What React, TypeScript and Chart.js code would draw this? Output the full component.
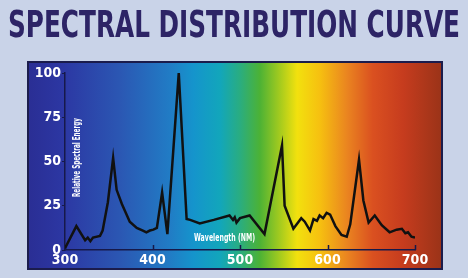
import React, { useEffect, useRef } from "react";
import { Chart, registerables } from "chart.js";

Chart.register(...registerables);

// ---- data ----
const wavelengths = [
  300, 313, 323, 326, 329, 332, 340, 343, 349, 355, 359, 365, 374, 382, 389, 393, 397, 401, 405, 411,
  417, 430, 439, 443, 454, 470, 488, 492, 494, 496, 500, 511, 528, 548, 551, 561, 570, 574, 580, 584,
  588, 591, 595, 599, 603, 609, 616, 622, 626, 636, 641, 647, 654, 662, 671, 679, 685, 689, 692, 696, 700,
];
const energy = [
  1, 13.5, 5.5, 7, 5, 7, 8, 11, 27, 52, 34, 26, 16, 12.5, 11, 10, 11, 11.5, 12.5, 32.5,
  9, 100, 17.5, 17, 15, 17, 19.5, 17, 18.5, 15.5, 18, 19.5, 9, 59, 25, 12, 18, 16, 11, 17.5,
  16.5, 19.5, 18, 21, 20, 13.5, 8.5, 7.5, 14.5, 51, 28, 15.5, 19.5, 14, 10, 11.5, 12, 9.5, 10, 7.5, 7,
];
const xTickValues = [300, 400, 500, 600, 700];
const yTickValues = [0, 25, 50, 75, 100];
const titleText = "SPECTRAL DISTRIBUTION CURVE";
const yTitleText = "Relative Spectral Energy";
const xTitleText = "Wavelength (NM)";

function pickFont(cands: string[]): string | null {
  const c = document.createElement("canvas").getContext("2d");
  if (!c) return null;
  const s = "SPECTRAL Wavelength 0123456789";
  for (const f of cands) {
    c.font = `bold 20px "${f}", monospace`;
    const a = c.measureText(s).width;
    c.font = `bold 20px "${f}", serif`;
    const b = c.measureText(s).width;
    if (Math.abs(a - b) < 0.01) return f;
  }
  return null;
}

function drawFit(
  ctx: CanvasRenderingContext2D,
  text: string,
  x: number,
  y: number,
  font: string,
  width: number,
  color: string
) {
  ctx.save();
  ctx.font = font;
  const w = ctx.measureText(text).width;
  ctx.translate(x, y);
  ctx.scale(width / w, 1);
  ctx.fillStyle = color;
  ctx.textAlign = "left";
  ctx.textBaseline = "middle";
  ctx.fillText(text, 0, 0);
  ctx.restore();
}

export default function App() {
  const ref = useRef<HTMLCanvasElement | null>(null);

  useEffect(() => {
    const canvas = ref.current;
    if (!canvas) return;
    const narrow = pickFont([
      "Liberation Sans Narrow",
      "DejaVu Sans Condensed",
      "Roboto Condensed",
      "Open Sans Condensed",
      "Arial Narrow",
    ]);
    const fam = narrow ? `"${narrow}"` : `"Liberation Sans", sans-serif`;
    const tickFont = { family: narrow ? `"${narrow}"` : "Roboto", size: narrow ? 14 : 12, weight: "bold" as const };
    const dark = "#16194a";

    const decor = {
      id: "decor",
      beforeDraw(chart: any) {
        const ctx: CanvasRenderingContext2D = chart.ctx;
        ctx.save();
        ctx.fillStyle = "#c9d3e8";
        ctx.fillRect(0, 0, chart.width, chart.height);
        // title
        ctx.font = `bold 37px ${fam}`;
        ctx.save();
        const tw = ctx.measureText(titleText).width;
        ctx.translate(8, 37);
        ctx.scale(452 / tw, 1);
        ctx.fillStyle = "#2d2466";
        ctx.textBaseline = "alphabetic";
        ctx.fillText(titleText, 0, 0);
        ctx.restore();
        // spectrum panel
        const L = 28, T = 62, W = 414, H = 207;
        const g = ctx.createLinearGradient(L, 0, L + W, 0);
        const stops: [number, string][] = [
          [0, "#2a2e94"], [0.085, "#2c37a3"], [0.222, "#2b57b3"], [0.343, "#217cc5"],
          [0.399, "#1594cc"], [0.464, "#12a6bb"], [0.512, "#2aad80"], [0.56, "#4cb235"],
          [0.609, "#a5cb1e"], [0.65, "#f2e10e"], [0.705, "#f6c010"], [0.771, "#ea8420"],
          [0.833, "#da5020"], [0.906, "#c63c1e"], [1, "#9a3318"],
        ];
        stops.forEach(([o, c]) => g.addColorStop(o, c));
        ctx.fillStyle = g;
        ctx.fillRect(L, T, W, H);
        ctx.strokeStyle = "#1b1c4c";
        ctx.lineWidth = 2;
        ctx.strokeRect(L, T, W, H);
        ctx.restore();
      },
      beforeDatasetsDraw(chart: any) {
        const ctx: CanvasRenderingContext2D = chart.ctx;
        const xs = chart.scales.x;
        const ys = chart.scales.y;
        ctx.save();
        // inward x tick marks
        ctx.strokeStyle = dark;
        ctx.lineWidth = 1.5;
        xTickValues.forEach((v) => {
          const px = Math.round(xs.getPixelForValue(v)) + 0.5;
          ctx.beginPath();
          ctx.moveTo(px, ys.bottom);
          ctx.lineTo(px, ys.bottom - 5);
          ctx.stroke();
        });
        // y title (rotated, inside plot)
        ctx.save();
        ctx.translate(77, 197);
        ctx.rotate(-Math.PI / 2);
        drawFit(ctx, yTitleText, 0, 0, `bold 11px ${fam}`, 79, "#ffffff");
        ctx.restore();
        // x title
        drawFit(ctx, xTitleText, 194, 238, `bold 11px ${fam}`, 61, "#ffffff");
        ctx.restore();
      },
    };

    const chart = new Chart(canvas, {
      type: "line",
      data: {
        datasets: [
          {
            data: wavelengths.map((w, i) => ({ x: w, y: energy[i] })),
            borderColor: "#111111",
            borderWidth: 2.5,
            pointRadius: 0,
            tension: 0,
            fill: false,
          },
        ],
      },
      options: {
        animation: false,
        responsive: false,
        events: [],
        layout: { padding: { left: 0, right: 53, top: 73, bottom: 0 } },
        plugins: { legend: { display: false }, tooltip: { enabled: false }, title: { display: false } },
        scales: {
          x: {
            type: "linear",
            min: 300,
            max: 700,
            afterBuildTicks: (s: any) => {
              s.ticks = xTickValues.map((v) => ({ value: v }));
            },
            afterFit: (s: any) => {
              s.height = 28;
            },
            ticks: { color: "#ffffff", font: tickFont, padding: 2, maxRotation: 0 },
            grid: { display: true, drawOnChartArea: false, drawTicks: false, color: dark },
            border: { display: true, color: dark, width: 1.5 },
          },
          y: {
            type: "linear",
            min: 0,
            max: 100,
            afterBuildTicks: (s: any) => {
              s.ticks = yTickValues.map((v) => ({ value: v }));
            },
            afterFit: (s: any) => {
              s.width = 65;
            },
            ticks: { color: "#ffffff", font: tickFont, padding: 1 },
            grid: { display: true, drawOnChartArea: false, drawTicks: true, tickLength: 3, color: dark },
            border: { display: true, color: dark, width: 1.5 },
          },
        },
      },
      plugins: [decor],
    } as any);

    return () => chart.destroy();
  }, []);

  return (
    <div style={{ position: "fixed", left: 0, top: 0, width: 468, height: 278, background: "#c9d3e8" }}>
      <canvas ref={ref} width={468} height={278} style={{ display: "block", width: 468, height: 278 }} />
    </div>
  );
}
